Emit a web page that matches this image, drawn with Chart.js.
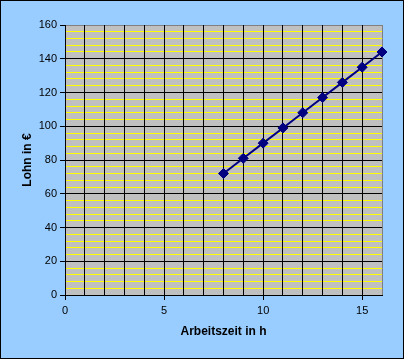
<!DOCTYPE html>
<html>
<head>
<meta charset="utf-8">
<script src="https://cdn.jsdelivr.net/npm/chart.js@4/dist/chart.umd.min.js"></script>
<style>
  html, body { margin: 0; padding: 0; background: #99CCFF; }
  #wrap { width: 404px; height: 359px; position: relative; }
</style>
</head>
<body>
<div id="wrap"><canvas id="c" width="404" height="359"></canvas></div>
<script>
// Data
const hours = [8, 9, 10, 11, 12, 13, 14, 15, 16];
const wage = [72, 81, 90, 99, 108, 117, 126, 135, 144];
const xTitle = 'Arbeitszeit in h';
const yTitle = 'Lohn in €';

const points = hours.map((h, i) => ({ x: h, y: wage[i] }));

const FONT = "Arial, 'Liberation Sans', sans-serif";

const bgPlugin = {
  id: 'bg',
  beforeDraw(chart) {
    const ctx = chart.ctx;
    const a = chart.chartArea;
    ctx.save();
    ctx.fillStyle = '#99CCFF';
    ctx.fillRect(0, 0, chart.width, chart.height);
    ctx.fillStyle = '#C0C0C0';
    ctx.fillRect(a.left, a.top, a.right - a.left, a.bottom - a.top);
    ctx.restore();
  },
  afterDraw(chart) {
    const ctx = chart.ctx;
    ctx.save();
    ctx.strokeStyle = '#000';
    ctx.lineWidth = 1;
    ctx.strokeRect(0.5, 0.5, chart.width - 1, chart.height - 1);
    ctx.restore();
  }
};

new Chart(document.getElementById('c'), {
  type: 'line',
  data: {
    datasets: [{
      data: points,
      borderColor: '#000080',
      backgroundColor: '#000080',
      borderWidth: 2,
      pointStyle: 'rectRot',
      pointRadius: 5,
      pointHoverRadius: 5,
      pointBorderWidth: 1,
      pointBorderColor: '#000080',
      pointBackgroundColor: '#000080',
      tension: 0,
      clip: false
    }]
  },
  options: {
    responsive: false,
    animation: false,
    devicePixelRatio: 1,
    layout: { padding: { top: 25, right: 22, left: 0, bottom: 0 } },
    plugins: { legend: { display: false }, tooltip: { enabled: false } },
    scales: {
      y: {
        type: 'linear',
        min: 0, max: 160,
        afterFit: s => { s.width = 65; },
        ticks: {
          stepSize: 4,
          autoSkip: false,
          color: '#000',
          padding: 3,
          font: { family: FONT, size: 11 },
          callback: v => (v % 20 === 0 ? String(v) : '')
        },
        grid: {
          lineWidth: 1,
          tickLength: 5,
          color: ctx => {
            const v = ctx.tick ? ctx.tick.value : 0;
            if (v === 160) return '#808080';
            return v % 20 === 0 ? '#000000' : '#FFFF00';
          },
          tickColor: ctx => {
            const v = ctx.tick ? ctx.tick.value : 0;
            return v % 20 === 0 ? '#000000' : 'rgba(0,0,0,0)';
          }
        },
        border: { color: '#000', width: 1 },
        title: {
          display: true,
          text: yTitle,
          color: '#000',
          font: { family: FONT, size: 12, weight: 'bold' },
          padding: { top: 20, bottom: 0 }
        }
      },
      x: {
        type: 'linear',
        min: 0, max: 16,
        afterFit: s => { s.height = 64; },
        ticks: {
          stepSize: 1,
          autoSkip: false,
          maxRotation: 0,
          color: '#000',
          padding: 4,
          font: { family: FONT, size: 11 },
          callback: v => (v % 5 === 0 ? String(v) : '')
        },
        grid: {
          lineWidth: 1,
          tickLength: 5,
          color: ctx => {
            const v = ctx.tick ? ctx.tick.value : 0;
            return v === 16 ? '#808080' : '#000000';
          },
          tickColor: ctx => {
            const v = ctx.tick ? ctx.tick.value : 0;
            return v % 5 === 0 ? '#000000' : 'rgba(0,0,0,0)';
          }
        },
        border: { color: '#000', width: 1 },
        title: {
          display: true,
          text: xTitle,
          color: '#000',
          font: { family: FONT, size: 12, weight: 'bold' },
          padding: { top: 0, bottom: 20 }
        }
      }
    }
  },
  plugins: [bgPlugin]
});
</script>
</body>
</html>
